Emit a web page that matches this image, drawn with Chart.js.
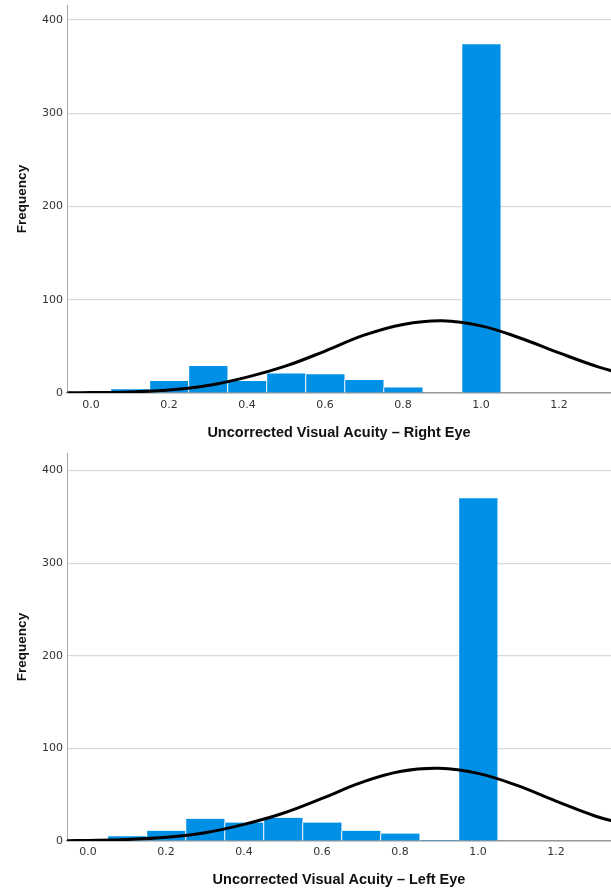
<!DOCTYPE html>
<html lang="en">
<head>
  <meta charset="UTF-8">
  <title>Uncorrected Visual Acuity</title>
  <script src="https://cdn.jsdelivr.net/npm/chart.js"></script>
  <style>
    body {
      margin: 0;
      background: #fff;
    }
    .bloc {
      position: relative;
      width: 611px;
    }
    #bloc1 { height: 450px; }
    #bloc2 { height: 443px; }
  </style>
</head>
<body>
  <div class="bloc" id="bloc1"><canvas id="chartRight"></canvas></div>
  <div class="bloc" id="bloc2"><canvas id="chartLeft"></canvas></div>

  <script>
    // histogram bins (visual acuity, bin centres)
    const binCenters = [0.1, 0.2, 0.3, 0.4, 0.5, 0.6, 0.7, 0.8, 0.9, 1.0];
    const rightEyeFreq = [4, 13, 29, 13, 21, 20, 14, 6, 0, 374];
    const leftEyeFreq = [5, 11, 24, 20, 25, 20, 11, 8, 1, 370];

    // normal curve
    const curveX = [-0.06, 0, 0.1, 0.2, 0.3, 0.4, 0.5, 0.6, 0.7, 0.8, 0.9, 1.0, 1.1, 1.2, 1.3, 1.36];
    const rightEyeCurve = [0.3, 0.5, 1.2, 3.2, 8, 17, 29, 45, 62, 73.5, 77.5, 72, 59, 43, 28, 21];
    const leftEyeCurve = [0.3, 0.6, 1.6, 4, 9, 18, 30, 46, 63, 75, 78.5, 73, 60, 43, 27, 20];

    const xTicks = [0, 0.2, 0.4, 0.6, 0.8, 1.0, 1.2];
    const yTicks = [0, 100, 200, 300, 400];

    const tickFont = { family: 'DejaVu Sans', size: 11 };
    const titleFont = { family: 'Liberation Sans', size: 14.5, weight: 'bold' };

    function makeChart(id, freq, curve, xTitle, opts) {
      return new Chart(document.getElementById(id), {
        data: {
          datasets: [
            {
              type: 'line',
              data: curveX.map((x, i) => ({ x: x, y: curve[i] })),
              borderColor: '#000',
              borderWidth: 3,
              pointRadius: 0,
              tension: 0.4,
              fill: false,
              order: 1
            },
            {
              type: 'bar',
              data: binCenters.map((x, i) => ({ x: x, y: freq[i] })),
              backgroundColor: '#0090E6',
              borderColor: '#fff',
              borderWidth: { left: 1, right: 0, top: 0, bottom: 0 },
              borderSkipped: false,
              barPercentage: 1,
              categoryPercentage: 1,
              order: 2
            }
          ]
        },
        options: {
          responsive: true,
          maintainAspectRatio: false,
          animation: false,
          layout: { padding: { top: opts.top, left: 0, right: 0, bottom: 0 } },
          plugins: {
            legend: { display: false },
            tooltip: { enabled: false }
          },
          scales: {
            x: {
              type: 'linear',
              offset: false,
              min: opts.xMin,
              max: opts.xMax,
              afterBuildTicks: s => { s.ticks = xTicks.map(v => ({ value: v })); },
              afterFit: s => { s.height = opts.xHeight; s.paddingLeft = 0; s.paddingRight = 0; },
              grid: { display: false, drawTicks: false },
              border: { display: true, color: '#9a9a9a', width: 1.5 },
              ticks: {
                color: '#333',
                font: tickFont,
                padding: opts.tickPad,
                maxRotation: 0,
                callback: v => v.toFixed(1)
              },
              title: {
                display: true,
                text: xTitle,
                color: '#111',
                font: titleFont,
                padding: { top: 0, bottom: opts.titlePad }
              }
            },
            y: {
              min: 0,
              max: opts.yMax,
              afterBuildTicks: s => { s.ticks = yTicks.map(v => ({ value: v })); },
              afterFit: s => { s.width = 67; s.paddingTop = 0; s.paddingBottom = 0; },
              grid: { color: '#d9d9d9', lineWidth: 1.2, drawTicks: false },
              border: { display: true, color: '#a8a8a8', width: 1 },
              ticks: { color: '#333', font: tickFont, padding: 4 },
              title: {
                display: true,
                text: 'Frequency',
                color: '#111',
                font: { family: 'Liberation Sans', size: 13.5, weight: 'bold' },
                padding: { top: 14, bottom: 0 }
              }
            }
          }
        }
      });
    }

    makeChart('chartRight', rightEyeFreq, rightEyeCurve, 'Uncorrected Visual Acuity \u2013 Right Eye',
      { top: 5, xMin: -0.0615, xMax: 1.333, yMax: 416, xHeight: 57, tickPad: 6, titlePad: 8 });
    makeChart('chartLeft', leftEyeFreq, leftEyeCurve, 'Uncorrected Visual Acuity \u2013 Left Eye',
      { top: 3, xMin: -0.054, xMax: 1.341, yMax: 419, xHeight: 52, tickPad: 5, titlePad: 4 });
  </script>
</body>
</html>
